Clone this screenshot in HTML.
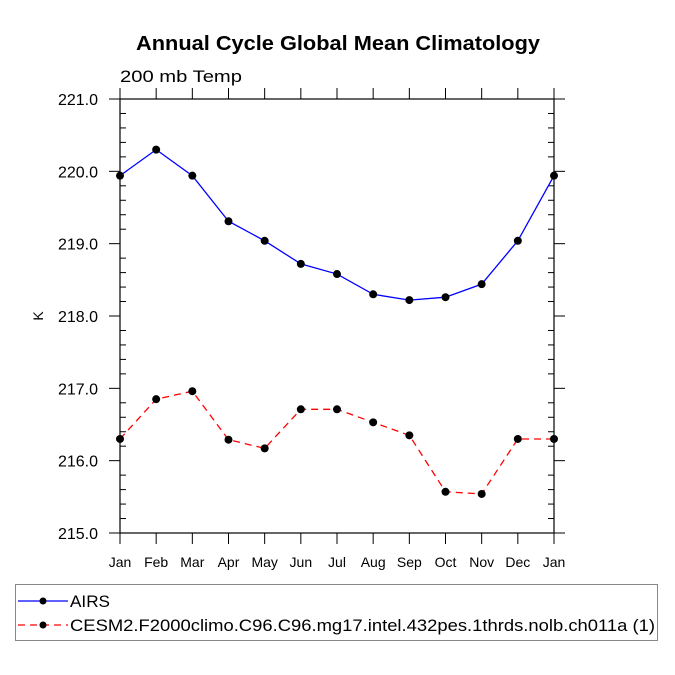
<!DOCTYPE html>
<html><head><meta charset="utf-8"><style>
body{margin:0;background:#fff;}
svg{display:block;font-family:"Liberation Sans",sans-serif;}
</style></head><body>
<svg id="c" width="675" height="675" xmlns="http://www.w3.org/2000/svg">
<text x="136" y="50" font-size="20" font-weight="bold" textLength="404" lengthAdjust="spacingAndGlyphs">Annual Cycle Global Mean Climatology</text>
<text x="120" y="82" font-size="17" textLength="122" lengthAdjust="spacingAndGlyphs">200 mb Temp</text>
<text transform="translate(43,316) rotate(-90)" text-anchor="middle" font-size="14">K</text>
<g id="axes"></g>
<g id="series"></g>
<rect x="15.5" y="584.5" width="642" height="56" fill="none" stroke="#888" stroke-width="1"/>
<g>
<line x1="18" y1="601" x2="68" y2="601" stroke="#00f" stroke-width="1.3"/>
<circle cx="43" cy="601" r="3.5" fill="#000"/>
<text x="70" y="607" font-size="17" textLength="40" lengthAdjust="spacingAndGlyphs">AIRS</text>
</g>
<g>
<line x1="18" y1="625" x2="68" y2="625" stroke="#f00" stroke-width="1.3" stroke-dasharray="7,5"/>
<circle cx="43" cy="625" r="3.5" fill="#000"/>
<text x="70" y="631" font-size="17" textLength="585" lengthAdjust="spacingAndGlyphs">CESM2.F2000climo.C96.C96.mg17.intel.432pes.1thrds.nolb.ch011a (1)</text>
</g>
</svg>
<script>
const months=["Jan","Feb","Mar","Apr","May","Jun","Jul","Aug","Sep","Oct","Nov","Dec","Jan"];
const airs=[219.94,220.30,219.94,219.31,219.04,218.72,218.58,218.30,218.22,218.26,218.44,219.04,219.94];
const cesm=[216.30,216.85,216.96,216.29,216.17,216.71,216.71,216.53,216.35,215.57,215.54,216.30,216.30];
const yTicks=[215,216,217,218,219,220,221];
const yLabels=["215.0","216.0","217.0","218.0","219.0","220.0","221.0"];
const X0=120,X1=554,Y0=533,Y1=99,YMIN=215,YMAX=221;
const xs=i=>X0+i*(X1-X0)/(months.length-1);
const ys=v=>Y0-(v-YMIN)*(Y0-Y1)/(YMAX-YMIN);
const NS="http://www.w3.org/2000/svg";
function mk(t,a,p){const e=document.createElementNS(NS,t);for(const k in a)e.setAttribute(k,a[k]);p.appendChild(e);return e;}
const ax=document.getElementById('axes');
const frame=mk('rect',{x:X0,y:Y1,width:X1-X0,height:Y0-Y1,fill:'none',stroke:'#000','stroke-width':1.2},ax);


months.forEach((m,i)=>{const x=xs(i);
mk('line',{x1:x,y1:Y0,x2:x,y2:Y0+11,stroke:'#000'},ax);
mk('line',{x1:x,y1:Y1,x2:x,y2:Y1-11,stroke:'#000'},ax);
const t=mk('text',{x:x,y:Y0+34,'text-anchor':'middle','font-size':14},ax);t.textContent=m;

});
yTicks.forEach((v,i)=>{const y=ys(v);
mk('line',{x1:X0-11,y1:y,x2:X0,y2:y,stroke:'#000'},ax);
mk('line',{x1:X1,y1:y,x2:X1+11,y2:y,stroke:'#000'},ax);
const t=mk('text',{x:X0-22,y:y+6,'text-anchor':'end','font-size':16},ax);t.textContent=yLabels[i];


if(i<yTicks.length-1)for(let k=1;k<5;k++){const yy=ys(v+k*0.2);
mk('line',{x1:X0,y1:yy,x2:X0+6,y2:yy,stroke:'#000'},ax);
mk('line',{x1:X1-6,y1:yy,x2:X1,y2:yy,stroke:'#000'},ax);}});
const sg=document.getElementById('series');
function draw(d,col,dash,name){
const l=mk('polyline',{points:d.map((v,i)=>xs(i)+','+ys(v)).join(' '),fill:'none',stroke:col,'stroke-width':1.3},sg);
if(dash)l.setAttribute('stroke-dasharray',dash);


d.forEach((v,i)=>{const c=mk('circle',{cx:xs(i),cy:ys(v),r:4,fill:'#000'},sg);

});}
draw(airs,'#00f',null,'airs');
draw(cesm,'#f00','7,5','cesm2');
</script>
</body></html>
